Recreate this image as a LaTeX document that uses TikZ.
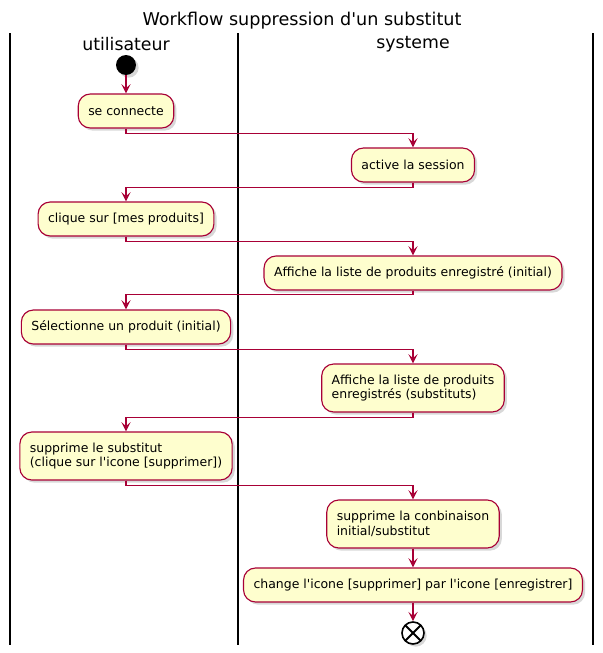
\documentclass[tikz,border=0pt]{standalone}
\usepackage{fontspec}
\setmainfont{DejaVu Sans}
\usepackage{tikz}
\usetikzlibrary{arrows.meta,shapes,positioning,shadows}
\definecolor{umlred}{HTML}{A80036}
\definecolor{umlyellow}{HTML}{FEFECE}
\tikzstyle{arrow} = [line width=0.85pt,-{Stealth[length=7pt,width=7pt,inset=3pt]},color=umlred]
\tikzstyle{activity} = [rectangle, rounded corners=9pt, minimum height=25.5pt, inner xsep=7.5pt, align=left, draw=umlred, fill=umlyellow, line width=0.85pt, font=\fontsize{9.35pt}{10.8pt}\selectfont, drop shadow={shadow xshift=2pt,shadow yshift=-2pt,fill=black!30}]
\tikzstyle{lane} = [line width=1.2pt]
\tikzstyle{lanetitle} = [font=\fontsize{13pt}{15pt}\selectfont]

\begin{document}
\begin{tikzpicture}[x=0.75pt,y=-0.75pt]
\useasboundingbox (0,0) rectangle (603,653);

% Title and lanes
\node[lanetitle, font=\fontsize{13.2pt}{15pt}\selectfont] (title) at (302,21) {Workflow suppression d\textquotesingle un substitut};
\node[lanetitle] (user) at (126,44) {utilisateur};
\node[lanetitle] (sys) at (413,44) {systeme};
\draw[lane] (10,33) -- (10,645);
\draw[lane] (238,33) -- (238,645);
\draw[lane] (593,33) -- (593,645);

% Start and stop
\node[circle, fill=black, minimum size=15pt, inner sep=0pt, drop shadow={shadow xshift=2pt,shadow yshift=-2pt,fill=black!30}] (start) at (126,65) {};

% Activities
\node[activity] (login) at (126,111) {se connecte};
\node[activity] (session) at (413,165) {active la session};
\node[activity] (click) at (126,219) {clique sur [mes produits]};
\node[activity] (list) at (413,273) {Affiche la liste de produits enregistré (initial)};
\node[activity] (select) at (126,327) {Sélectionne un produit (initial)};
\node[activity, minimum height=36pt] (subs) at (413,388) {Affiche la liste de produits\\enregistrés (substituts)};
\node[activity, minimum height=36pt] (remove) at (126,456) {supprime le substitut\\(clique sur l\textquotesingle icone [supprimer])};
\node[activity, minimum height=36pt] (combo) at (413,524) {supprime la conbinaison\\initial/substitut};
\node[activity] (icon) at (413,585) {change l\textquotesingle icone [supprimer] par l\textquotesingle icone [enregistrer]};

\node[circle, draw=black, fill=white, line width=1.2pt, minimum size=16.5pt, inner sep=0pt, drop shadow={shadow xshift=2pt,shadow yshift=-2pt,fill=black!30}, path picture={\draw[line width=1.5pt] (path picture bounding box.north west) -- (path picture bounding box.south east) (path picture bounding box.north east) -- (path picture bounding box.south west);}] (stop) at (413,633) {};

% Flow
\draw[arrow] (start) -- (login);
\draw[arrow] (login.south) -- ++(0,5) -| (session.north);
\draw[arrow] (session.south) -- ++(0,5) -| (click.north);
\draw[arrow] (click.south) -- ++(0,5) -| (list.north);
\draw[arrow] (list.south) -- ++(0,4) -| (select.north);
\draw[arrow] (select.south) -- ++(0,5) -| (subs.north);
\draw[arrow] (subs.south) -- ++(0,5) -| (remove.north);
\draw[arrow] (remove.south) -- ++(0,5) -| (combo.north);
\draw[arrow] (combo) -- (icon);
\draw[arrow] (icon) -- (stop);
\end{tikzpicture}
\end{document}
